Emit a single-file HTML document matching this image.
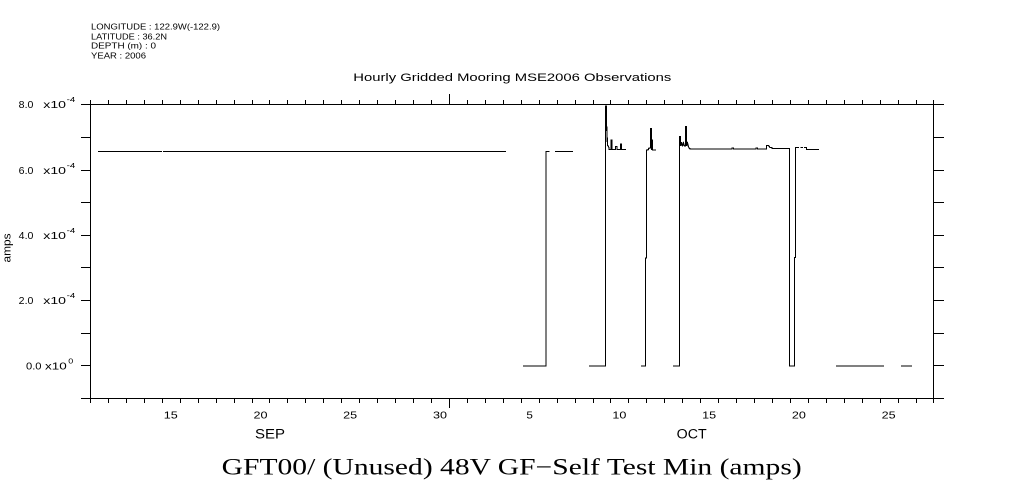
<!DOCTYPE html>
<html>
<head>
<meta charset="utf-8">
<style>
html,body{margin:0;padding:0;background:#fff;}
svg{display:block;}
text{font-family:"Liberation Sans",sans-serif;fill:#000;}
.serif{font-family:"Liberation Serif",serif;}
</style>
</head>
<body>
<svg width="1009" height="504" viewBox="0 0 1009 504" xmlns="http://www.w3.org/2000/svg">
<rect width="1009" height="504" fill="#fff"/>

<!-- header -->
<g font-size="8.5">
<text x="91" y="29.5" textLength="129" lengthAdjust="spacingAndGlyphs">LONGITUDE : 122.9W(-122.9)</text>
<text x="91" y="39.3" textLength="76" lengthAdjust="spacingAndGlyphs">LATITUDE : 36.2N</text>
<text x="91" y="48.7" textLength="65" lengthAdjust="spacingAndGlyphs">DEPTH (m) : 0</text>
<text x="91" y="58.5" textLength="55" lengthAdjust="spacingAndGlyphs">YEAR : 2006</text>
</g>

<!-- plot title -->
<text x="353.3" y="81" font-size="11" textLength="318" lengthAdjust="spacingAndGlyphs">Hourly Gridded Mooring MSE2006 Observations</text>

<!-- frame and ticks -->
<g stroke="#000" stroke-width="1" fill="none" shape-rendering="crispEdges">
<rect x="90.5" y="104.5" width="843" height="294"/>
<path d="M81,104.5H90 M81,137.5H90 M81,170.5H90 M81,202.5H90 M81,235.5H90 M81,267.5H90 M81,300.5H90 M81,333.5H90 M81,365.5H90 M81,398.5H90"/>
<path d="M934,104.5H944 M934,137.5H944 M934,170.5H944 M934,202.5H944 M934,235.5H944 M934,267.5H944 M934,300.5H944 M934,333.5H944 M934,365.5H944 M934,398.5H944"/>
<path d="M90.5,399V403 M108.5,399V403 M126.5,399V403 M144.5,399V403 M162.5,399V403 M180.5,399V403 M198.5,399V403 M216.5,399V403 M234.5,399V403 M252.5,399V403 M269.5,399V403 M287.5,399V403 M305.5,399V403 M323.5,399V403 M341.5,399V403 M359.5,399V403 M377.5,399V403 M395.5,399V403 M413.5,399V403 M431.5,399V403 M449.5,399V408 M467.5,399V403 M485.5,399V403 M503.5,399V403 M521.5,399V403 M539.5,399V403 M557.5,399V403 M575.5,399V403 M593.5,399V403 M610.5,399V403 M628.5,399V403 M646.5,399V403 M664.5,399V403 M682.5,399V403 M700.5,399V403 M718.5,399V403 M736.5,399V403 M754.5,399V403 M772.5,399V403 M790.5,399V403 M808.5,399V403 M826.5,399V403 M844.5,399V403 M862.5,399V403 M880.5,399V403 M898.5,399V403 M916.5,399V403 M933.5,399V403"/>
<path d="M90.5,100V104 M108.5,100V104 M126.5,100V104 M144.5,100V104 M162.5,100V104 M180.5,100V104 M198.5,100V104 M216.5,100V104 M234.5,100V104 M252.5,100V104 M269.5,100V104 M287.5,100V104 M305.5,100V104 M323.5,100V104 M341.5,100V104 M359.5,100V104 M377.5,100V104 M395.5,100V104 M413.5,100V104 M431.5,100V104 M449.5,94V104 M467.5,100V104 M485.5,100V104 M503.5,100V104 M521.5,100V104 M539.5,100V104 M557.5,100V104 M575.5,100V104 M593.5,100V104 M610.5,100V104 M628.5,100V104 M646.5,100V104 M664.5,100V104 M682.5,100V104 M700.5,100V104 M718.5,100V104 M736.5,100V104 M754.5,100V104 M772.5,100V104 M790.5,100V104 M808.5,100V104 M826.5,100V104 M844.5,100V104 M862.5,100V104 M880.5,100V104 M898.5,100V104 M916.5,100V104 M933.5,100V104"/>
</g>

<!-- y labels -->
<g font-size="10.5">
<text x="18.7" y="108" textLength="14.7" lengthAdjust="spacingAndGlyphs">8.0</text>
<text x="43.3" y="108" textLength="22.7" lengthAdjust="spacingAndGlyphs">x10</text>
<text x="66.7" y="102" font-size="7.5" textLength="8.6" lengthAdjust="spacingAndGlyphs">-4</text>

<text x="18.7" y="174" textLength="14.7" lengthAdjust="spacingAndGlyphs">6.0</text>
<text x="43.3" y="174" textLength="22.7" lengthAdjust="spacingAndGlyphs">x10</text>
<text x="66.7" y="168" font-size="7.5" textLength="8.6" lengthAdjust="spacingAndGlyphs">-4</text>

<text x="18.7" y="239" textLength="14.7" lengthAdjust="spacingAndGlyphs">4.0</text>
<text x="43.3" y="239" textLength="22.7" lengthAdjust="spacingAndGlyphs">x10</text>
<text x="66.7" y="233" font-size="7.5" textLength="8.6" lengthAdjust="spacingAndGlyphs">-4</text>

<text x="18.7" y="304" textLength="14.7" lengthAdjust="spacingAndGlyphs">2.0</text>
<text x="43.3" y="304" textLength="22.7" lengthAdjust="spacingAndGlyphs">x10</text>
<text x="66.7" y="298" font-size="7.5" textLength="8.6" lengthAdjust="spacingAndGlyphs">-4</text>

<text x="26" y="369.5" textLength="15.5" lengthAdjust="spacingAndGlyphs">0.0</text>
<text x="45" y="369.5" textLength="21.7" lengthAdjust="spacingAndGlyphs">x10</text>
<text x="68.3" y="363.5" font-size="7.5" textLength="5" lengthAdjust="spacingAndGlyphs">0</text>
</g>

<text transform="translate(10.5,248) rotate(-90)" text-anchor="middle" font-size="11" textLength="29" lengthAdjust="spacingAndGlyphs">amps</text>

<!-- x labels -->
<g font-size="10.5" text-anchor="middle">
<text x="170.8" y="418.5" textLength="14" lengthAdjust="spacingAndGlyphs">15</text>
<text x="260.5" y="418.5" textLength="14" lengthAdjust="spacingAndGlyphs">20</text>
<text x="350.2" y="418.5" textLength="14" lengthAdjust="spacingAndGlyphs">25</text>
<text x="440" y="418.5" textLength="14" lengthAdjust="spacingAndGlyphs">30</text>
<text x="529.7" y="418.5" textLength="6.5" lengthAdjust="spacingAndGlyphs">5</text>
<text x="619.4" y="418.5" textLength="14" lengthAdjust="spacingAndGlyphs">10</text>
<text x="709.2" y="418.5" textLength="14" lengthAdjust="spacingAndGlyphs">15</text>
<text x="798.9" y="418.5" textLength="14" lengthAdjust="spacingAndGlyphs">20</text>
<text x="888.6" y="418.5" textLength="14" lengthAdjust="spacingAndGlyphs">25</text>
</g>
<g font-size="13.5" text-anchor="middle">
<text x="270" y="438.5" textLength="30" lengthAdjust="spacingAndGlyphs">SEP</text>
<text x="691.7" y="438.5" textLength="30" lengthAdjust="spacingAndGlyphs">OCT</text>
</g>

<!-- data -->
<g stroke="#000" stroke-width="1.2" fill="none" shape-rendering="crispEdges">
<path d="M98,151.5 H162 M163,151.5 H506"/>
<path d="M523,366 H546 V151.5 H549.5"/>
<path d="M555,151.5 H573"/>
<path d="M589,366 H605.5 V106 H606.5 V123 L607.5,145 L609,147.5 V149.5 H611 V140 H612 V149.5 H615.5 V146.5 H617 V149.5 H620.5 V144 H621.5 V149.5 H626"/>
<path d="M641,366 H645.5 V258 H646.5 V150 H648 L649,148 H650.5 V128.5 H651.5 V150 L652.5,139.5 V150 H656"/>
<path d="M673,366 H679.5 V136.5 H680.5 V146 L681.5,142 L682.5,146.5 L683.5,143 L684.5,146 H685.5 V126.5 H686.5 V146 L687.5,143 L688.5,147 L689.5,148.5 L690.5,149 H732 V148 H733.5 V149 H756 V148 H757.5 V149 H766.5 V145.5 H768.5 L770,147.5 H772 V148.5 H789.5 V366 H794.5 V257.5 H795.5 V147.5 H799 M800.5,147.5 H803 M804,147.5 H806.5 V149.5 H819"/>
<path d="M836,366 H884 M901,366 H912"/>
</g>

<!-- bottom title -->
<text class="serif" x="221.7" y="474.3" font-size="23" textLength="580" lengthAdjust="spacingAndGlyphs">GFT00/ (Unused) 48V GF−Self Test Min (amps)</text>
</svg>
</body>
</html>
